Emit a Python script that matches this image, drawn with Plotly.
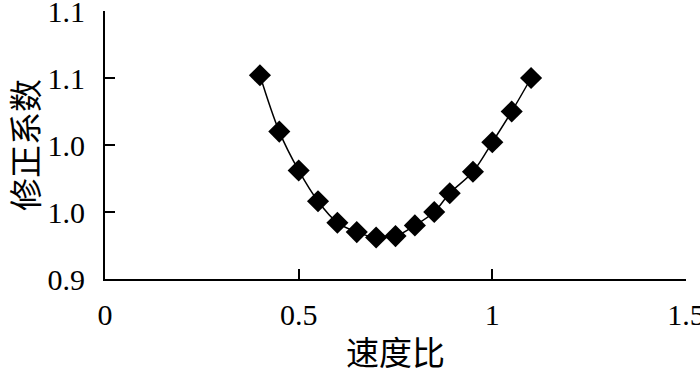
import plotly.graph_objects as go

speed_ratio = [0.40, 0.45, 0.50, 0.55, 0.60, 0.65, 0.70, 0.75, 0.80, 0.85, 0.89, 0.95, 1.00, 1.05, 1.10]
correction = [1.052, 1.010, 0.981, 0.958, 0.942, 0.935, 0.931, 0.932, 0.940, 0.950, 0.964, 0.980, 1.002, 1.025, 1.050]

x_ticks = [0, 0.5, 1, 1.5]
x_ticktext = ["0", "0.5", "1", "1.5"]
y_ticks = [0.9, 0.95, 1.0, 1.05, 1.1]
y_ticktext = ["0.9", "1.0", "1.0", "1.1", "1.1"]

fig = go.Figure()
fig.add_trace(go.Scatter(
    x=speed_ratio, y=correction, mode="lines",
    line=dict(color="black", width=1.5, shape="spline", smoothing=1.0),
    showlegend=False, hoverinfo="skip"))
fig.add_trace(go.Scatter(
    x=speed_ratio, y=correction, mode="markers",
    marker=dict(symbol="diamond", size=17, color="black"),
    showlegend=False))

tick_font = dict(family="Liberation Serif, Times New Roman, serif", size=30, color="black")
title_font = dict(family="Noto Sans CJK SC, sans-serif", size=33, color="black")

fig.update_layout(
    width=700, height=375,
    margin=dict(l=105, r=14, t=11, b=96),
    paper_bgcolor="white", plot_bgcolor="white",
    xaxis=dict(range=[0, 1.5], tickvals=x_ticks, ticktext=x_ticktext,
               showgrid=False, zeroline=False, showline=True, linecolor="black", linewidth=2,
               ticks="inside", ticklen=10, tickwidth=2, tickcolor="black",
               tickfont=tick_font, ticklabelstandoff=8, ticklabeloverflow="allow",
               automargin=False,
               title=dict(text="速度比", font=title_font, standoff=12)),
    yaxis=dict(range=[0.9, 1.1], tickvals=y_ticks, ticktext=y_ticktext,
               showgrid=False, zeroline=False, showline=True, linecolor="black", linewidth=2,
               ticks="inside", ticklen=10, tickwidth=2, tickcolor="black",
               tickfont=tick_font, ticklabelstandoff=12, ticklabeloverflow="allow",
               automargin=False,
               title=dict(text="修正系数", font=title_font, standoff=14)),
)

fig.write_html("out.html", config={"displayModeBar": False},
               post_script="document.body.style.margin='0';document.body.style.overflow='hidden';")
